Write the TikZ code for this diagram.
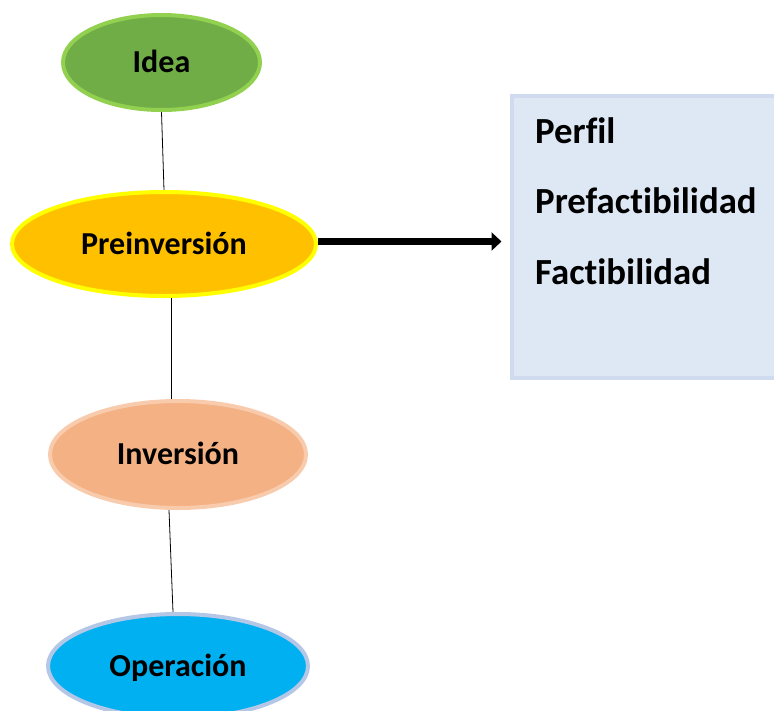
\documentclass[tikz,border=0pt]{standalone}
\usepackage{fontspec}
\setmainfont[RawFeature={-liga;-clig;-dlig}]{Carlito}
\usetikzlibrary{shapes.geometric,arrows.meta,backgrounds}
\definecolor{ideaFill}{HTML}{70AD47}
\definecolor{ideaLine}{HTML}{92D050}
\definecolor{preFill}{HTML}{FFC000}
\definecolor{preLine}{HTML}{FFFF00}
\definecolor{invFill}{HTML}{F4B183}
\definecolor{invLine}{HTML}{F8CBAD}
\definecolor{opFill}{HTML}{00B0F0}
\definecolor{opLine}{HTML}{B4C7E7}
\definecolor{boxFill}{HTML}{DEE8F4}
\definecolor{boxLine}{HTML}{D0DBEF}
\tikzset{
  phase/.style={ellipse, line width=4pt, inner sep=0pt, text height=20pt, text depth=0pt,
    font=\fontsize{32}{38}\selectfont\bfseries},
  link/.style={draw=black, line width=0.8pt},
  bigarrow/.style={draw=black, line width=7pt, -{Triangle[length=10pt,width=18pt]}},
  boxtext/.style={anchor=base west, inner sep=0pt, font=\fontsize{36.8}{40}\selectfont\bfseries}
}
\begin{document}
\begin{tikzpicture}[x=1pt,y=-1pt]
\useasboundingbox (0,0) rectangle (774,710);
\clip (0,0) rectangle (774,710);
% stage box
\node[draw=boxLine, fill=boxFill, line width=4pt, minimum width=280pt, minimum height=282pt, anchor=north west, inner sep=0pt] (stages) at (510,94) {};
\node[boxtext] (perfil) at (535,143) {Perfil};
\node[boxtext] (prefac) at (535,213) {Prefactibilidad};
\node[boxtext] (fac) at (535,284) {Factibilidad};
% phases
\node[phase, draw=ideaLine, fill=ideaFill, minimum width=197pt, minimum height=95pt] (idea) at (161.5,62.5) {Idea};
\node[phase, draw=preLine, fill=preFill, minimum width=304pt, minimum height=104pt] (pre) at (164,244) {Preinversión};
\node[phase, draw=invLine, fill=invFill, minimum width=256pt, minimum height=107pt] (inv) at (178,454.5) {Inversión};
\node[phase, draw=opLine, fill=opFill, minimum width=260pt, minimum height=104pt] (op) at (178,666) {Operación};
\coordinate (arrowend) at (501.5,241.5);
\begin{pgfonlayer}{background}
\draw[link] (idea.south) -- (pre.north);
\draw[link] ([xshift=7pt]pre.south) -- ([xshift=-7pt]inv.north);
\draw[link] ([xshift=-9pt]inv.south) -- ([xshift=-5pt]op.north);
\end{pgfonlayer}
\draw[bigarrow] (pre.east |- arrowend) -- (arrowend);
\end{tikzpicture}
\end{document}
